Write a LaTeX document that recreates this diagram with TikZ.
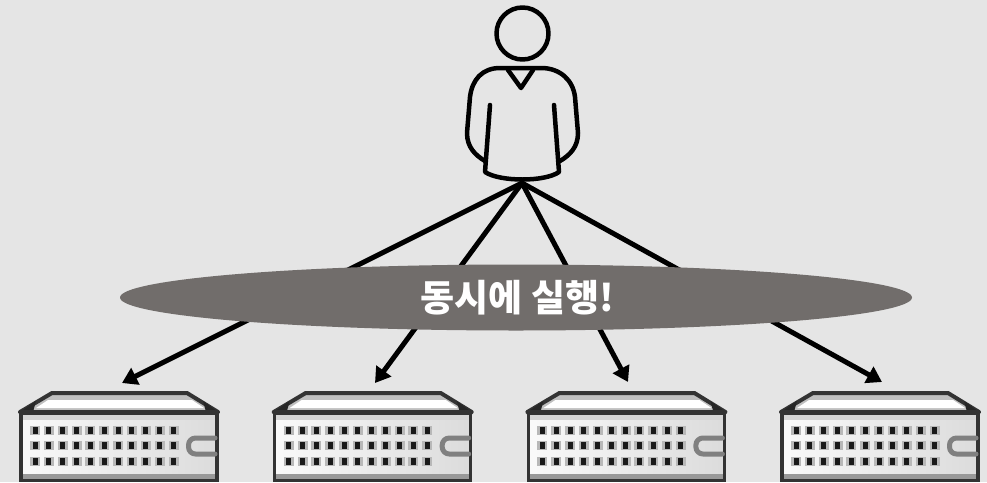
\documentclass[tikz,border=0pt]{standalone}
\usepackage{fontspec}
\newfontfamily\krfont{Noto Sans CJK KR}
\usetikzlibrary{arrows.meta}
\usetikzlibrary{shapes.geometric}
\definecolor{bgcol}{HTML}{E5E5E5}
\definecolor{bandcol}{HTML}{716D6B}
\tikzset{
  person/.style={line width=4.5pt,color=black},
  fanline/.style={line width=5pt,-{Triangle[length=15pt,width=18pt]},color=black},
  band/.style={ellipse,fill=bandcol,minimum width=792pt,minimum height=66pt,inner sep=0pt,text=white,font=\krfont\bfseries\fontsize{37}{37}\selectfont},
  rackline/.style={line width=4pt,color=black!80,line join=miter},
}
% one server, left edge at x=20 of the first one
\newcommand{\serverbox}[1]{
\begin{scope}[xshift=#1]
\fill [black!25] (52,392)-- (187,392)-- (218,412)-- (20,412)-- cycle;
\fill [white] (48,400)-- (192,400)-- (204,408)-- (36,408)-- cycle;
\fill [left color=black!2,right color=black!14] (20,412) rectangle (218,480);
\fill [black!16] (20,412) rectangle (218,420);
\fill [black!40] (20,474) rectangle (218,479);
\draw [rackline] (20,412)-- (52,393)-- (187,393)-- (218,412);
\fill [black!85] (20,412)-- (36,401)-- (33,412)-- cycle;
\fill [black!85] (218,412)-- (203,401)-- (206,412)-- cycle;
\draw [rackline,line width=4.5pt] (21,412.5)-- (217,412.5);
\draw [rackline,line width=3.5pt] (21,412)-- (21,480.5)-- (217,480.5)-- (217,412);
\foreach \px in {0,...,10} {
  \foreach \py in {430,445.5,461} {
    \fill [black!28] (35-5+13.85*\px,\py-4.5) rectangle +(10,9);
    \fill [black!90] (35-2.5+13.85*\px,\py-3.5) rectangle +(5,7);
  }
}
\draw [line width=5pt,color=black!50,rounded corners=7pt] (215,438)-- (188.5,438)-- (188.5,454)-- (215,454);
\end{scope}
}
\begin{document}
\begin{tikzpicture}[line cap=round,line join=round,x=1pt,y=-1pt]
\useasboundingbox [fill=bgcol] (0,0) rectangle (987,482);
\coordinate (apex) at (522,183);
\coordinate (rackA) at (122,383);
\coordinate (rackB) at (375,383);
\coordinate (rackC) at (628,382);
\coordinate (rackD) at (882,382);
\draw [fanline] (apex)-- (rackA);
\draw [fanline] (apex)-- (rackB);
\draw [fanline] (apex)-- (rackC);
\draw [fanline] (apex)-- (rackD);
\node [band] (runall) at (516,297.5) {\hspace{3pt}동시에 실행!};
% person
\coordinate (head) at (522.5,33.5);
\draw [person] (head) circle (26);
\draw [person] (485,161)..controls (475,155) and (467,147) .. (467,133)-- (470,97) ..controls (472,80) and (482,68) .. (500,68)-- (541,68) ..controls (560,68) and (573,80) .. (575,97)-- (578,133) ..controls (578,147) and (570,155) .. (560,161);
\draw [person] (490,105)-- (485,172) ..controls (500,182) and (545,182) .. (559,172)-- (554,105);
\draw [person] (508,70)-- (521,88)-- (533,70);
% servers
\serverbox{0pt}
\serverbox{253.7pt}
\serverbox{507.4pt}
\serverbox{761pt}
\end{tikzpicture}
\end{document}
